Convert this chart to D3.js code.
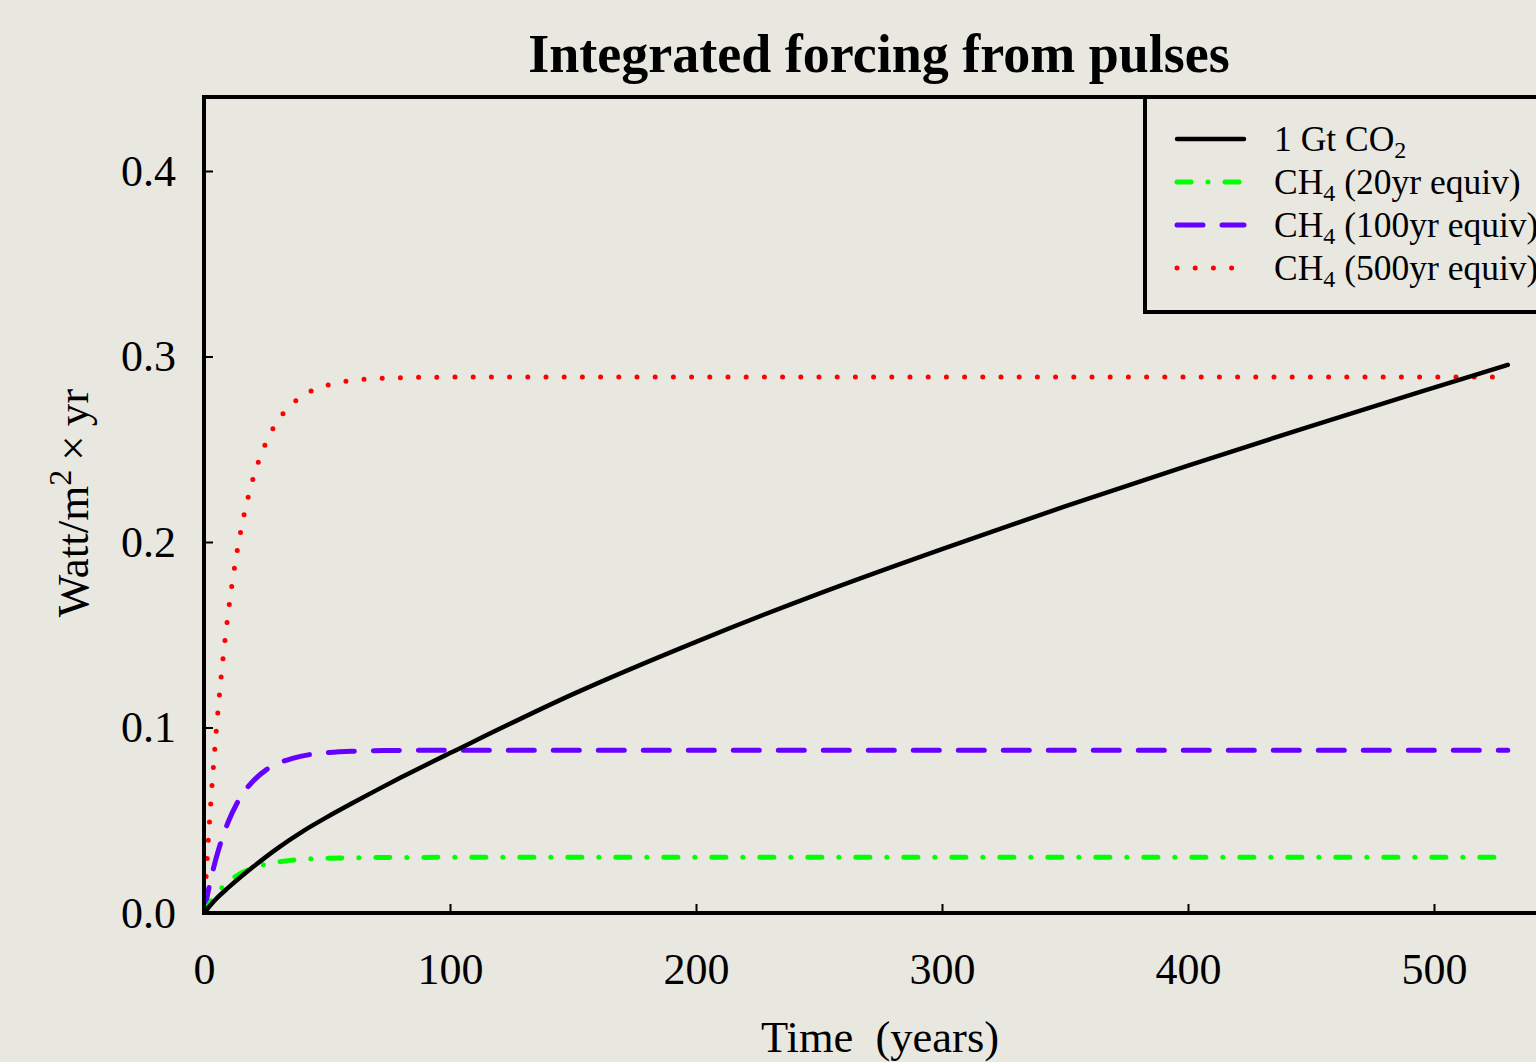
<!DOCTYPE html>
<html>
<head>
<meta charset="utf-8">
<script src="https://cdn.jsdelivr.net/npm/d3@7"></script>
<style>
  html, body { margin: 0; padding: 0; background: #e8e7e0; overflow: hidden; }
  svg { display: block; font-family: "Liberation Serif", "DejaVu Serif", serif; }
</style>
</head>
<body>
<svg id="chart"></svg>
<script>
// values
const co2Years = [0, 2, 5, 10, 15, 20, 30, 40, 50, 60, 70, 80, 90, 100, 150, 200, 250, 300, 350, 400, 450, 500, 530];
const co2Values = [0, 0.0032, 0.0077, 0.0138, 0.0195, 0.0249, 0.0350, 0.0439, 0.0517, 0.0590, 0.0661, 0.0730, 0.0797, 0.0862, 0.1180, 0.1462, 0.1722, 0.1962, 0.2192, 0.2412, 0.2625, 0.2832, 0.2955];

const ch4Years = [0, 2, 4, 6, 8, 10, 13, 16, 20, 25, 30, 36, 43, 50, 60, 75, 100, 200, 300, 400, 530];
const ch4_20yr = [0, 0.0046, 0.0085, 0.0118, 0.0146, 0.0170, 0.0198, 0.0221, 0.0243, 0.0263, 0.0275, 0.0285, 0.0292, 0.0295, 0.0298, 0.0299, 0.0300, 0.0300, 0.0300, 0.0300, 0.0300];
const ch4_100yr = [0, 0.0135, 0.0249, 0.0345, 0.0427, 0.0496, 0.0581, 0.0647, 0.0712, 0.0769, 0.0806, 0.0834, 0.0854, 0.0864, 0.0872, 0.0876, 0.0878, 0.0878, 0.0878, 0.0878, 0.0878];
const ch4_500yr = [0, 0.0444, 0.0819, 0.1137, 0.1406, 0.1634, 0.1912, 0.2128, 0.2344, 0.2530, 0.2653, 0.2746, 0.2810, 0.2845, 0.2871, 0.2884, 0.2889, 0.2890, 0.2890, 0.2890, 0.2890];

const xTicks = [0, 100, 200, 300, 400, 500];
const yTicks = [0, 0.1, 0.2, 0.3, 0.4];

const series = [
    { label: ["1 Gt CO", "2", ""], years: co2Years, values: co2Values, color: "#000000", width: 4.5, dash: null },
    { label: ["CH", "4", " (20yr equiv)"], years: ch4Years, values: ch4_20yr, color: "#00ff00", width: 5, dash: "14,17,0,17" },
    { label: ["CH", "4", " (100yr equiv)"], years: ch4Years, values: ch4_100yr, color: "#6600ff", width: 5, dash: "26,19" },
    { label: ["CH", "4", " (500yr equiv)"], years: ch4Years, values: ch4_500yr, color: "#ff0000", width: 5, dash: "0,18.2" }
];

const width = 1536, height = 1062;
const plot = { left: 204, top: 97, right: 1560, bottom: 913 };

const svg = d3.select("#chart")
    .attr("width", width)
    .attr("height", height)
    .style("background", "#e8e7e0");

const x = d3.scaleLinear().domain([0, 500]).range([plot.left, 1434]);
const y = d3.scaleLinear().domain([0, 0.4]).range([plot.bottom, 171]);

svg.append("defs").append("clipPath").attr("id", "clip")
    .append("rect")
    .attr("x", plot.left).attr("y", plot.top)
    .attr("width", plot.right - plot.left).attr("height", plot.bottom - plot.top);

// Title
svg.append("text")
    .attr("x", 879).attr("y", 72)
    .attr("text-anchor", "middle")
    .attr("font-size", 54)
    .attr("font-weight", "bold")
    .text("Integrated forcing from pulses");

// Axes (ticks point inward)
const xAxis = svg.append("g")
    .attr("transform", `translate(0,${plot.bottom})`)
    .call(d3.axisBottom(x).tickValues(xTicks).tickSizeInner(-9).tickSizeOuter(0).tickPadding(40).tickFormat(d3.format("d")));
xAxis.select(".domain").remove();
xAxis.selectAll("line").attr("stroke-width", 2);
xAxis.selectAll("text").attr("font-size", 44).attr("font-family", "Liberation Serif").attr("fill", "#000");

const yAxis = svg.append("g")
    .attr("transform", `translate(${plot.left},0)`)
    .call(d3.axisLeft(y).tickValues(yTicks).tickSizeInner(-9).tickSizeOuter(0).tickPadding(28).tickFormat(d3.format(".1f")));
yAxis.select(".domain").remove();
yAxis.selectAll("line").attr("stroke-width", 2);
yAxis.selectAll("text").attr("font-size", 44).attr("font-family", "Liberation Serif").attr("fill", "#000");

// Lines
const line = d3.line()
    .x(d => x(d[0]))
    .y(d => y(d[1]))
    .curve(d3.curveMonotoneX);

const lines = svg.append("g").attr("clip-path", "url(#clip)");
series.slice().reverse().forEach(s => {
    lines.append("path")
        .datum(d3.zip(s.years, s.values))
        .attr("fill", "none")
        .attr("stroke", s.color)
        .attr("stroke-width", s.width)
        .attr("stroke-linecap", "round")
        .attr("stroke-dasharray", s.dash)
        .attr("d", line);
});

// Frame
svg.append("path")
    .attr("fill", "none")
    .attr("stroke", "#000")
    .attr("stroke-width", 4)
    .attr("d", `M${plot.right},${plot.top}H${plot.left}V${plot.bottom}H${plot.right}`);

// Legend
const legend = svg.append("g");
legend.append("rect")
    .attr("x", 1145).attr("y", plot.top)
    .attr("width", 500).attr("height", 215)
    .attr("fill", "#e8e7e0")
    .attr("stroke", "#000")
    .attr("stroke-width", 4);

series.forEach((s, i) => {
    const ry = 139 + i * 43;
    legend.append("line")
        .attr("x1", 1177).attr("x2", 1244)
        .attr("y1", ry).attr("y2", ry)
        .attr("stroke", s.color)
        .attr("stroke-width", s.width)
        .attr("stroke-linecap", "round")
        .attr("stroke-dasharray", s.dash);
    const t = legend.append("text")
        .attr("x", 1274).attr("y", ry + 12)
        .attr("font-size", 35.5);
    t.append("tspan").text(s.label[0]);
    t.append("tspan").attr("font-size", 24).attr("baseline-shift", "-7").text(s.label[1]);
    if (s.label[2]) t.append("tspan").text(s.label[2]);
});

// Axis titles
svg.append("text")
    .attr("x", 880).attr("y", 1052)
    .attr("text-anchor", "middle")
    .attr("font-size", 44.5)
    .style("white-space", "pre")
    .text("Time  (years)");

const yl = svg.append("text")
    .attr("transform", "translate(88,503) rotate(-90)")
    .attr("text-anchor", "middle")
    .attr("font-size", 45);
yl.append("tspan").text("Watt/m");
yl.append("tspan").attr("font-size", 32).attr("baseline-shift", "17").text("2");
yl.append("tspan").text("\u2009\u00d7\u2009yr");
</script>
</body>
</html>
